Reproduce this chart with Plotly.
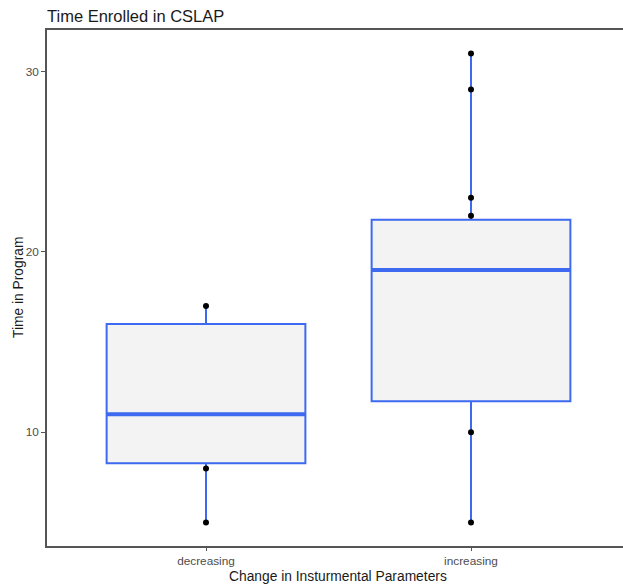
import plotly.graph_objects as go

categories = ["decreasing", "increasing"]
q1_vals = [8.28, 11.72]
median_vals = [11.0, 19.0]
q3_vals = [16.0, 21.78]
lower_vals = [5.0, 5.0]
upper_vals = [17.0, 31.0]
points_decreasing = [5, 8, 17]
points_increasing = [5, 10, 22, 23, 29, 31]

blue = "#3D6AF0"
fill = "#F3F3F3"

W, H = 630, 586
L, R, T, B = 47, 0, 30, 40
pw, ph = W - L - R, H - T - B

fig = go.Figure()
fig.add_trace(go.Box(
    x=categories, q1=q1_vals, median=median_vals, q3=q3_vals,
    lowerfence=lower_vals, upperfence=upper_vals,
    width=0.75, whiskerwidth=0, fillcolor=fill,
    line=dict(color=blue, width=2), boxpoints=False, showlegend=False,
))
# thick median lines
fig.add_trace(go.Box(
    x=categories, q1=median_vals, median=median_vals, q3=median_vals,
    lowerfence=median_vals, upperfence=median_vals,
    width=0.75, whiskerwidth=0, fillcolor=blue,
    line=dict(color=blue, width=4), boxpoints=False, showlegend=False,
))
fig.add_trace(go.Scatter(
    x=[categories[0]] * len(points_decreasing) + [categories[1]] * len(points_increasing),
    y=points_decreasing + points_increasing,
    mode="markers", marker=dict(color="black", size=6), showlegend=False,
))

fig.update_layout(
    template="none",
    width=W, height=H,
    margin=dict(l=L, r=R, t=T, b=B, autoexpand=False),
    plot_bgcolor="white", paper_bgcolor="white",
    boxmode="overlay",
    font=dict(family="Liberation Sans, Arial, sans-serif"),
    title=dict(text="Time Enrolled in CSLAP", x=L / W, xref="container", xanchor="left",
               y=1 - 16 / H, yref="container", yanchor="middle",
               font=dict(size=16.5, color="#1a1a1a")),
    annotations=[
        dict(text="Change in Insturmental Parameters", xref="paper", yref="paper",
             x=(338 - L) / pw, y=-(576 - (T + ph)) / ph, xanchor="center", yanchor="middle",
             showarrow=False, font=dict(size=13.8, color="#1a1a1a")),
        dict(text="Time in Program", xref="paper", yref="paper",
             x=(18 - L) / pw, y=0.5, xanchor="center", yanchor="middle", textangle=-90,
             showarrow=False, font=dict(size=13.8, color="#1a1a1a")),
    ],
)
fig.update_xaxes(
    range=[-0.6, 1.6], showline=True, linecolor="#555555", linewidth=1.5,
    mirror=True, ticks="outside", ticklen=3, tickcolor="#555555",
    tickfont=dict(size=11.8, color="#4D4D4D"), showgrid=False, zeroline=False,
    automargin=False,
)
fig.update_yaxes(
    range=[3.7, 32.3], tickvals=[10, 20, 30], showline=True, linecolor="#555555",
    linewidth=1.5, ticks="outside", ticklen=4, tickcolor="#555555",
    tickfont=dict(size=11.8, color="#4D4D4D"), showgrid=False, zeroline=False,
    automargin=False,
)

fig.write_html(
    "out.html",
    config={"displayModeBar": False},
    post_script="document.body.style.margin='0';document.body.style.overflow='hidden';",
)
